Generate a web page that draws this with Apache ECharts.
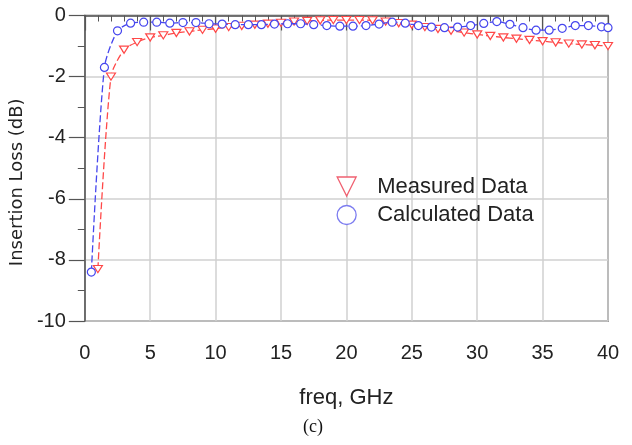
<!DOCTYPE html>
<html><head><meta charset="utf-8">
<script src="https://cdn.jsdelivr.net/npm/echarts@6/dist/echarts.min.js"></script>
<style>html,body{margin:0;padding:0;background:#fff}#c{width:632px;height:445px}</style>
</head><body><div id="c"></div>
<script>
const measuredFreq = [1,2,3,4,5,6,7,8,9,10,11,12,13,14,15,16,17,18,19,20,21,22,23,24,25,26,27,28,29,30,31,32,33,34,35,36,37,38,39,40];
const measuredLoss = [-8.3,-2.0,-1.12,-0.87,-0.72,-0.65,-0.57,-0.52,-0.47,-0.43,-0.38,-0.34,-0.3,-0.27,-0.24,-0.2,-0.18,-0.16,-0.15,-0.15,-0.15,-0.16,-0.2,-0.25,-0.3,-0.38,-0.44,-0.5,-0.56,-0.62,-0.67,-0.72,-0.76,-0.8,-0.84,-0.88,-0.92,-0.95,-0.97,-1.0];
const calcFreq = [0.5,1.5,2.5,3.5,4.5,5.5,6.5,7.5,8.5,9.5,10.5,11.5,12.5,13.5,14.5,15.5,16.5,17.5,18.5,19.5,20.5,21.5,22.5,23.5,24.5,25.5,26.5,27.5,28.5,29.5,30.5,31.5,32.5,33.5,34.5,35.5,36.5,37.5,38.5,39.5,40];
const calcLoss = [-8.4,-1.7,-0.5,-0.25,-0.22,-0.22,-0.25,-0.23,-0.23,-0.27,-0.28,-0.3,-0.3,-0.3,-0.28,-0.27,-0.27,-0.3,-0.33,-0.35,-0.35,-0.33,-0.28,-0.22,-0.25,-0.33,-0.38,-0.4,-0.38,-0.33,-0.26,-0.2,-0.29,-0.4,-0.48,-0.48,-0.42,-0.33,-0.33,-0.37,-0.4];
const xTicks = [0,5,10,15,20,25,30,35,40];
const yTicks = [0,-2,-4,-6,-8,-10];
const seriesNames = ['Measured Data','Calculated Data'];

const RED = '#ff4848', BLUE = '#4646ee';
const TRI = 'path://M0,0 L10,0 L5,9 Z';
const TRI_LEG = 'path://M0,0 L10,0 L5,10 Z';
const pair = (xs, ys) => xs.map((x, i) => [x, ys[i]]);

const chart = echarts.init(document.getElementById('c'), null, {renderer: 'canvas'});
chart.setOption({
  animation: false,
  grid: {left: 83.5, right: 24, top: 15.5, bottom: 124, show: true, borderColor: '#555', borderWidth: 1.5, backgroundColor: 'transparent'},
  xAxis: {
    type: 'value', min: 0, max: 40, interval: 5,
    name: 'freq, GHz', nameLocation: 'middle', nameGap: 66,
    nameTextStyle: {fontFamily: 'Liberation Sans', fontSize: 22, color: '#222'},
    axisLine: {show: true, lineStyle: {color: '#555', width: 1.5}},
    axisTick: {show: true, inside: false, length: 15, lineStyle: {color: '#555', width: 1.2}},
    minorTick: {show: true, splitNumber: 5, length: 6, lineStyle: {color: '#555', width: 1}},
    axisLabel: {margin: 22, fontFamily: 'Liberation Sans', fontSize: 20, color: '#222', formatter: v => xTicks.includes(v) ? String(v) : ''},
    splitLine: {show: true, lineStyle: {color: '#d0d0d0', width: 1.5}}
  },
  yAxis: {
    type: 'value', min: -10, max: 0, interval: 2,
    name: 'Insertion Loss (dB)', nameLocation: 'middle', nameGap: 52,
    nameTextStyle: {fontFamily: 'DejaVu Sans', fontSize: 18, color: '#222', padding: [0, 28, 0, 0]},
    axisLine: {show: true, lineStyle: {color: '#555', width: 1.5}},
    axisTick: {show: true, inside: false, length: 16, lineStyle: {color: '#555', width: 1.2}},
    minorTick: {show: true, splitNumber: 2, length: 7, lineStyle: {color: '#555', width: 1}},
    axisLabel: {margin: 19, fontFamily: 'Liberation Sans', fontSize: 20, color: '#222', formatter: v => yTicks.includes(v) ? String(v) : ''},
    splitLine: {show: true, lineStyle: {color: '#d0d0d0', width: 1.5}}
  },
  legend: {
    orient: 'vertical', left: 331.5, top: 170.5, itemGap: 6.5, itemWidth: 19, itemHeight: 19,
    textStyle: {fontFamily: 'Liberation Sans', fontSize: 22, color: '#222', padding: [0, 0, 0, 16]},
    data: [
      {name: seriesNames[0], icon: TRI_LEG, itemStyle: {color: '#fff', borderColor: '#f06070', borderWidth: 1.3}},
      {name: seriesNames[1], icon: 'circle', itemStyle: {color: '#fff', borderColor: '#7c7cf0', borderWidth: 1.3}}
    ]
  },
  series: [
    {
      name: seriesNames[0], type: 'line', data: pair(measuredFreq, measuredLoss), smooth: 0.25,
      symbol: TRI, symbolSize: [9, 8], symbolKeepAspect: true,
      itemStyle: {color: '#fff', borderColor: RED, borderWidth: 1.2},
      lineStyle: {color: RED, width: 1.3, type: [7, 3]}, z: 2
    },
    {
      name: seriesNames[1], type: 'line', data: pair(calcFreq, calcLoss), smooth: 0.25,
      symbol: 'circle', symbolSize: 8,
      itemStyle: {color: '#fff', borderColor: BLUE, borderWidth: 1.2},
      lineStyle: {color: BLUE, width: 1.3, type: [7, 3]}, z: 3
    }
  ],
  graphic: [
    {type: 'text', left: 303, top: 418, style: {text: '(c)', font: '18px "Liberation Serif"', fill: '#111'}}
  ]
});
</script></body></html>
